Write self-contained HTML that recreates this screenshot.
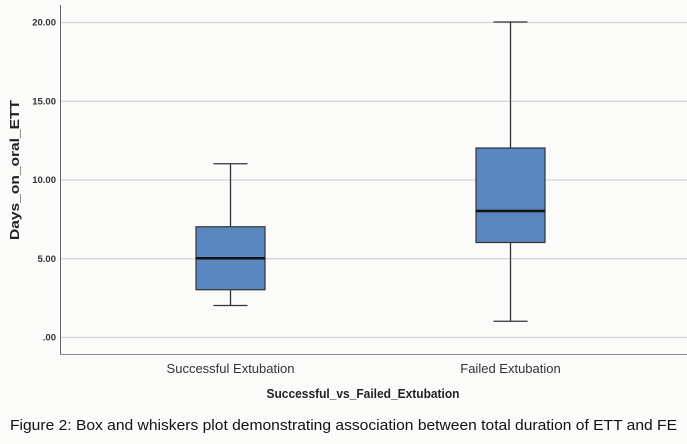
<!DOCTYPE html>
<html><head><meta charset="utf-8"><style>
body{margin:0;background:#fbfbf9;}
svg{display:block;font-family:"Liberation Sans",sans-serif;}
</style></head><body>
<svg id="chart" width="687" height="444">
<rect width="687" height="444" fill="#fbfbf9"/>
<g id="grid"></g>
<line x1="60.5" y1="5" x2="60.5" y2="354" stroke="#666" stroke-width="1"/>
<line x1="60" y1="354.5" x2="687" y2="354.5" stroke="#888" stroke-width="1"/>
<g id="boxes"></g>
<text x="19" y="170" transform="rotate(-90 19 170)" text-anchor="middle" font-size="13" font-weight="bold" fill="#222" textLength="140" lengthAdjust="spacingAndGlyphs">Days_on_oral_ETT</text>
<text x="363" y="398" text-anchor="middle" font-size="12.5" font-weight="bold" fill="#222" textLength="193" lengthAdjust="spacingAndGlyphs">Successful_vs_Failed_Extubation</text>
<text x="10" y="430" font-size="15" fill="#111" textLength="667" lengthAdjust="spacingAndGlyphs">Figure 2: Box and whiskers plot demonstrating association between total duration of ETT and FE</text>
</svg>
<script>
const categories=["Successful Extubation","Failed Extubation"];
const whiskerLow=[2,1];
const q1=[3,6];
const medians=[5,8];
const q3=[7,12];
const whiskerHigh=[11,20];
const ticks=[0,5,10,15,20];
const tickLabels=[".00","5.00","10.00","15.00","20.00"];
const NS="http://www.w3.org/2000/svg";
const y=v=>337-v*(315/20);
const x=i=>230+i*280;
function mk(tag,attrs,parent){const e=document.createElementNS(NS,tag);for(const k in attrs)e.setAttribute(k,attrs[k]);parent.appendChild(e);return e;}
const grid=document.getElementById('grid');
ticks.forEach((t,i)=>{
  const l=mk('line',{x1:61,x2:687,y1:y(t)+0.5,y2:y(t)+0.5,stroke:'#d4d4d4','stroke-width':1.2},grid);
  
  
  const tx=mk('text',{x:56,y:y(t)+3.5,'text-anchor':'end','font-size':9.5,'font-weight':600,fill:'#333'},grid);
  tx.textContent=tickLabels[i];
  
  
});
const boxes=document.getElementById('boxes');
categories.forEach((c,i)=>{
  const cx=x(i)+0.5;
  const g=mk('g',{},boxes);
  
  
  mk('line',{x1:cx,x2:cx,y1:y(whiskerHigh[i]),y2:y(q3[i]),stroke:'#333','stroke-width':1.3},g);
  mk('line',{x1:cx,x2:cx,y1:y(q1[i]),y2:y(whiskerLow[i]),stroke:'#333','stroke-width':1.3},g);
  mk('line',{x1:cx-17,x2:cx+17,y1:y(whiskerHigh[i]),y2:y(whiskerHigh[i]),stroke:'#333','stroke-width':1.3},g);
  mk('line',{x1:cx-17,x2:cx+17,y1:y(whiskerLow[i]),y2:y(whiskerLow[i]),stroke:'#333','stroke-width':1.3},g);
  mk('rect',{x:cx-34.5,y:y(q3[i]),width:69,height:y(q1[i])-y(q3[i]),fill:'#5b87c0',stroke:'#333','stroke-width':1.2},g);
  mk('line',{x1:cx-34.5,x2:cx+34.5,y1:y(medians[i]),y2:y(medians[i]),stroke:'#111','stroke-width':2.5},g);
  const t=mk('text',{x:cx,y:373,'text-anchor':'middle','font-size':13,fill:'#333'},boxes);
  t.textContent=c;
  
  
});
</script>
</body></html>
